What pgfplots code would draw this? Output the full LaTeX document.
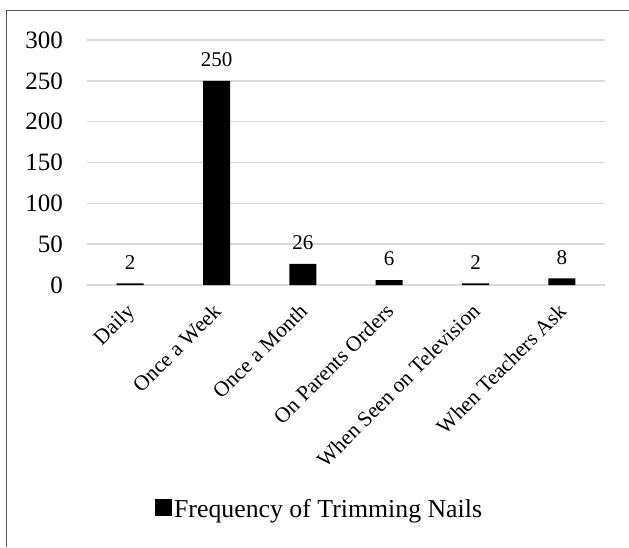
\documentclass[border=0pt]{standalone}
\usepackage{pgfplots}
\pgfplotsset{compat=1.18}
\usepackage{fontspec}
\setmainfont{Liberation Serif}
\definecolor{gridgray}{HTML}{D9D9D9}
\definecolor{framegray}{HTML}{595959}

\begin{document}
\begin{tikzpicture}[x=1pt,y=1pt]
\useasboundingbox (0,0) rectangle (629,547);
% chart frame (left and top edges)
\draw[line width=1.5pt, framegray] (6.5,0) -- (6.5,536.5) -- (629,536.5);
\begin{axis}[
  at={(87pt,262pt)}, anchor=south west,
  scale only axis, width=518pt, height=245pt,
  xmin=-0.5, xmax=5.5, ymin=0, ymax=300,
  ytick={0,50,...,300},
  xtick={0,1,2,3,4,5},
  xticklabels={Daily, Once a Week, Once a Month, On Parents Orders, When Seen on Television, When Teachers Ask},
  major tick length=0pt,
  axis x line*=bottom, axis y line*=left,
  x axis line style={draw=gridgray, line width=1.5pt, -},
  y axis line style={draw=none},
  ymajorgrids, grid style={draw=gridgray, line width=1.5pt},
  /pgf/number format/assume math mode=true,
  yticklabel style={font=\fontsize{25}{28}\selectfont, anchor=east, inner sep=0pt, xshift=-24pt},
  % shifts act in the rotated frame of the label
  xticklabel style={font=\fontsize{21.5}{24}\selectfont, rotate=45, anchor=north east, inner sep=0pt, xshift=-15.5pt, yshift=-8.5pt},
  ybar, bar width=27pt,
  nodes near coords,
  every node near coord/.append style={font=\fontsize{21}{24}\selectfont, inner sep=0pt, anchor=south, yshift=14pt, black},
  legend style={at={(0.449,-0.916)}, anchor=center, draw=none, fill=none,
    font=\fontsize{25.8}{30}\selectfont, inner sep=0pt,
    nodes={inner sep=2pt},
    /tikz/every even column/.append style={column sep=0pt}},
  legend image code/.code={\fill[black] (0pt,-7pt) rectangle (17pt,10pt);},
  clip=false,
]
\addplot[fill=black, draw=none] coordinates {(0,2) (1,250) (2,26) (3,6) (4,2) (5,8)};
\addlegendentry{Frequency of Trimming Nails}
\end{axis}
\end{tikzpicture}
\end{document}
